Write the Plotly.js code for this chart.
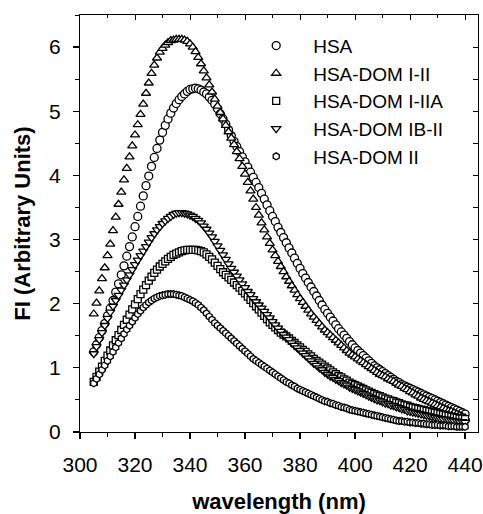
<!DOCTYPE html>
<html>
<head>
<meta charset="utf-8">
<script src="https://cdn.plot.ly/plotly-3.0.1.min.js"></script>
<style>html,body{margin:0;padding:0;background:#fff;}#chart{width:483px;height:514px;}</style>
</head>
<body>
<div id="chart"></div>
<script>
var wavelength = [305,306,307,308,309,310,311,312,313,314,315,316,317,318,319,320,321,322,323,324,325,326,327,328,329,330,331,332,333,334,335,336,337,338,339,340,341,342,343,344,345,346,347,348,349,350,351,352,353,354,355,356,357,358,359,360,361,362,363,364,365,366,367,368,369,370,371,372,373,374,375,376,377,378,379,380,381,382,383,384,385,386,387,388,389,390,391,392,393,394,395,396,397,398,399,400,401,402,403,404,405,406,407,408,409,410,411,412,413,414,415,416,417,418,419,420,421,422,423,424,425,426,427,428,429,430,431,432,433,434,435,436,437,438,439,440];

var hsa = [1.25,1.36,1.47,1.58,1.69,1.81,1.93,2.05,2.18,2.31,2.45,2.59,2.74,2.89,3.04,3.20,3.36,3.52,3.68,3.84,3.99,4.14,4.28,4.42,4.55,4.67,4.78,4.88,4.97,5.05,5.12,5.18,5.23,5.27,5.31,5.34,5.35,5.36,5.35,5.33,5.30,5.27,5.22,5.17,5.11,5.04,4.96,4.88,4.80,4.71,4.62,4.53,4.45,4.37,4.29,4.21,4.13,4.05,3.97,3.89,3.81,3.72,3.63,3.54,3.45,3.36,3.28,3.19,3.11,3.03,2.95,2.87,2.79,2.71,2.63,2.55,2.47,2.40,2.33,2.26,2.19,2.12,2.05,1.98,1.91,1.85,1.79,1.73,1.67,1.61,1.56,1.51,1.46,1.41,1.36,1.31,1.27,1.23,1.19,1.15,1.11,1.07,1.03,1.00,0.97,0.94,0.91,0.88,0.85,0.82,0.79,0.77,0.74,0.72,0.70,0.68,0.66,0.64,0.62,0.60,0.58,0.56,0.54,0.52,0.50,0.48,0.46,0.44,0.42,0.40,0.38,0.36,0.34,0.32,0.30,0.28];

var domI_II = [1.84,2.01,2.20,2.39,2.56,2.75,2.93,3.14,3.35,3.55,3.74,3.93,4.11,4.29,4.46,4.63,4.79,4.95,5.11,5.28,5.44,5.59,5.72,5.83,5.92,5.98,6.03,6.07,6.10,6.11,6.12,6.12,6.12,6.11,6.09,6.05,6.00,5.93,5.84,5.74,5.63,5.52,5.41,5.30,5.19,5.08,4.98,4.88,4.78,4.68,4.58,4.48,4.37,4.26,4.14,4.02,3.89,3.76,3.63,3.50,3.38,3.26,3.15,3.04,2.94,2.84,2.75,2.66,2.58,2.50,2.42,2.35,2.28,2.21,2.14,2.08,2.02,1.96,1.90,1.84,1.79,1.74,1.69,1.64,1.59,1.55,1.51,1.47,1.43,1.39,1.35,1.31,1.27,1.23,1.20,1.17,1.14,1.11,1.08,1.05,1.02,0.99,0.96,0.93,0.90,0.88,0.86,0.83,0.81,0.79,0.76,0.73,0.71,0.68,0.66,0.63,0.61,0.58,0.56,0.53,0.51,0.49,0.47,0.45,0.43,0.41,0.39,0.37,0.35,0.33,0.32,0.30,0.28,0.26,0.24,0.22];

var domI_IIA = [0.78,0.86,0.94,1.02,1.11,1.19,1.27,1.35,1.43,1.51,1.59,1.67,1.75,1.83,1.91,1.99,2.07,2.15,2.22,2.29,2.36,2.42,2.48,2.53,2.58,2.62,2.66,2.70,2.73,2.76,2.78,2.80,2.82,2.83,2.84,2.84,2.84,2.84,2.83,2.82,2.80,2.77,2.73,2.69,2.64,2.59,2.54,2.49,2.45,2.41,2.37,2.33,2.29,2.25,2.20,2.16,2.11,2.06,2.01,1.96,1.91,1.86,1.81,1.76,1.71,1.67,1.63,1.59,1.55,1.52,1.49,1.46,1.42,1.39,1.35,1.32,1.28,1.25,1.21,1.18,1.14,1.11,1.08,1.05,1.02,0.99,0.96,0.93,0.90,0.87,0.85,0.82,0.80,0.77,0.75,0.73,0.71,0.69,0.67,0.65,0.63,0.61,0.59,0.57,0.56,0.54,0.52,0.51,0.49,0.48,0.46,0.45,0.43,0.42,0.41,0.39,0.38,0.37,0.36,0.35,0.34,0.33,0.32,0.31,0.30,0.29,0.28,0.27,0.26,0.25,0.24,0.23,0.22,0.21,0.21,0.20];

var domIB_II = [1.22,1.33,1.44,1.55,1.66,1.77,1.87,1.96,2.05,2.13,2.21,2.29,2.37,2.45,2.53,2.61,2.68,2.75,2.82,2.89,2.96,3.03,3.09,3.15,3.20,3.25,3.29,3.33,3.36,3.39,3.41,3.42,3.42,3.41,3.40,3.38,3.36,3.33,3.30,3.26,3.21,3.16,3.10,3.04,2.97,2.90,2.83,2.76,2.69,2.62,2.55,2.49,2.43,2.37,2.31,2.25,2.19,2.14,2.08,2.03,1.98,1.93,1.88,1.83,1.78,1.72,1.67,1.62,1.57,1.52,1.48,1.44,1.39,1.35,1.31,1.27,1.23,1.19,1.15,1.11,1.07,1.04,1.00,0.97,0.93,0.90,0.87,0.85,0.82,0.80,0.77,0.75,0.73,0.70,0.68,0.66,0.64,0.62,0.60,0.58,0.56,0.54,0.52,0.50,0.49,0.47,0.45,0.44,0.42,0.41,0.39,0.38,0.36,0.35,0.33,0.32,0.31,0.30,0.29,0.28,0.27,0.26,0.25,0.24,0.23,0.22,0.21,0.20,0.20,0.19,0.18,0.17,0.17,0.16,0.16,0.15];

var domII = [0.76,0.83,0.90,0.97,1.04,1.11,1.18,1.25,1.32,1.39,1.46,1.53,1.60,1.66,1.72,1.78,1.84,1.89,1.94,1.98,2.02,2.05,2.08,2.10,2.12,2.13,2.14,2.15,2.15,2.15,2.14,2.13,2.12,2.10,2.08,2.06,2.04,2.01,1.98,1.94,1.90,1.85,1.80,1.75,1.70,1.66,1.62,1.58,1.54,1.50,1.46,1.42,1.38,1.34,1.30,1.26,1.22,1.18,1.14,1.11,1.08,1.05,1.02,0.99,0.96,0.93,0.90,0.87,0.84,0.81,0.78,0.76,0.73,0.71,0.68,0.66,0.64,0.62,0.60,0.58,0.56,0.54,0.52,0.50,0.48,0.47,0.45,0.44,0.42,0.41,0.39,0.38,0.37,0.35,0.34,0.33,0.32,0.31,0.30,0.29,0.28,0.27,0.26,0.25,0.24,0.23,0.22,0.21,0.20,0.19,0.18,0.17,0.17,0.16,0.16,0.15,0.15,0.14,0.14,0.13,0.13,0.12,0.12,0.11,0.11,0.11,0.10,0.10,0.10,0.09,0.09,0.09,0.08,0.08,0.08,0.08];

var seriesNames = ["HSA", "HSA-DOM I-II", "HSA-DOM I-IIA", "HSA-DOM IB-II", "HSA-DOM II"];
var seriesData = [hsa, domI_II, domI_IIA, domIB_II, domII];
var symbols = ["circle", "triangle-up", "square", "triangle-down", "hexagon"];
var sizes = [8, 8, 7, 8, 7];

var FONT = "'Liberation Sans', Arial, Helvetica, sans-serif";
var traces = [];
for (var i = 0; i < seriesNames.length; i++) {
  traces.push({
    type: "scatter", mode: "markers", name: seriesNames[i],
    x: wavelength, y: seriesData[i],
    marker: {symbol: symbols[i], size: sizes[i], color: "#ffffff", line: {color: "#000000", width: 1.3}}
  });
}
// empty traces that bring in the mirrored top and right axes
traces.push({type: "scatter", mode: "markers", x: [], y: [], xaxis: "x2", yaxis: "y", showlegend: false, hoverinfo: "skip"});
traces.push({type: "scatter", mode: "markers", x: [], y: [], xaxis: "x", yaxis: "y2", showlegend: false, hoverinfo: "skip"});

var xr = [300, 444.7], yr = [0, 6.5];
var layout = {
  width: 483, height: 514,
  margin: {l: 80, r: 5, t: 15, b: 82},
  paper_bgcolor: "#ffffff", plot_bgcolor: "#ffffff",
  font: {family: FONT, color: "#000000", size: 20},
  showlegend: true,
  legend: {x: 0.40, xanchor: "left", y: 0.972, yanchor: "top", bgcolor: "rgba(0,0,0,0)",
           font: {family: FONT, size: 19, color: "#000"}, itemwidth: 64, tracegroupgap: 0},
  xaxis: {range: xr, showgrid: false, zeroline: false, showline: true, linecolor: "#000", linewidth: 1.2,
          ticks: "outside", ticklen: 6, tickwidth: 1.2, tickcolor: "#000", dtick: 20, tick0: 300,
          tickfont: {family: FONT, size: 21}, ticklabelstandoff: 8,
          minor: {dtick: 10, ticks: "outside", ticklen: 4, tickcolor: "#000", tickwidth: 1},
          title: {text: "<b>wavelength (nm)</b>", font: {family: FONT, size: 22}, standoff: 31}},
  yaxis: {range: yr, showgrid: false, zeroline: false, showline: true, linecolor: "#000", linewidth: 1.2,
          ticks: "outside", ticklen: 6, tickwidth: 1.2, tickcolor: "#000", dtick: 1, tick0: 0,
          tickfont: {family: FONT, size: 21}, ticklabelstandoff: 8,
          minor: {dtick: 0.5, ticks: "outside", ticklen: 4, tickcolor: "#000", tickwidth: 1},
          title: {text: "<b>FI (Arbitrary Units)</b>", font: {family: FONT, size: 22}, standoff: 12}},
  xaxis2: {range: xr, overlaying: "x", side: "top", showgrid: false, zeroline: false, showline: true,
           linecolor: "#000", linewidth: 1.2, ticks: "inside", ticklen: 5, tickwidth: 1, tickcolor: "#000",
           dtick: 20, tick0: 300, showticklabels: false,
           minor: {dtick: 10, ticks: "inside", ticklen: 3, tickcolor: "#000", tickwidth: 1}},
  yaxis2: {range: yr, overlaying: "y", side: "right", showgrid: false, zeroline: false, showline: true,
           linecolor: "#000", linewidth: 1.2, ticks: "inside", ticklen: 5, tickwidth: 1, tickcolor: "#000",
           dtick: 0.5, tick0: 0, showticklabels: false}
};
Plotly.newPlot("chart", traces, layout, {displayModeBar: false, staticPlot: true});
</script>
</body>
</html>
